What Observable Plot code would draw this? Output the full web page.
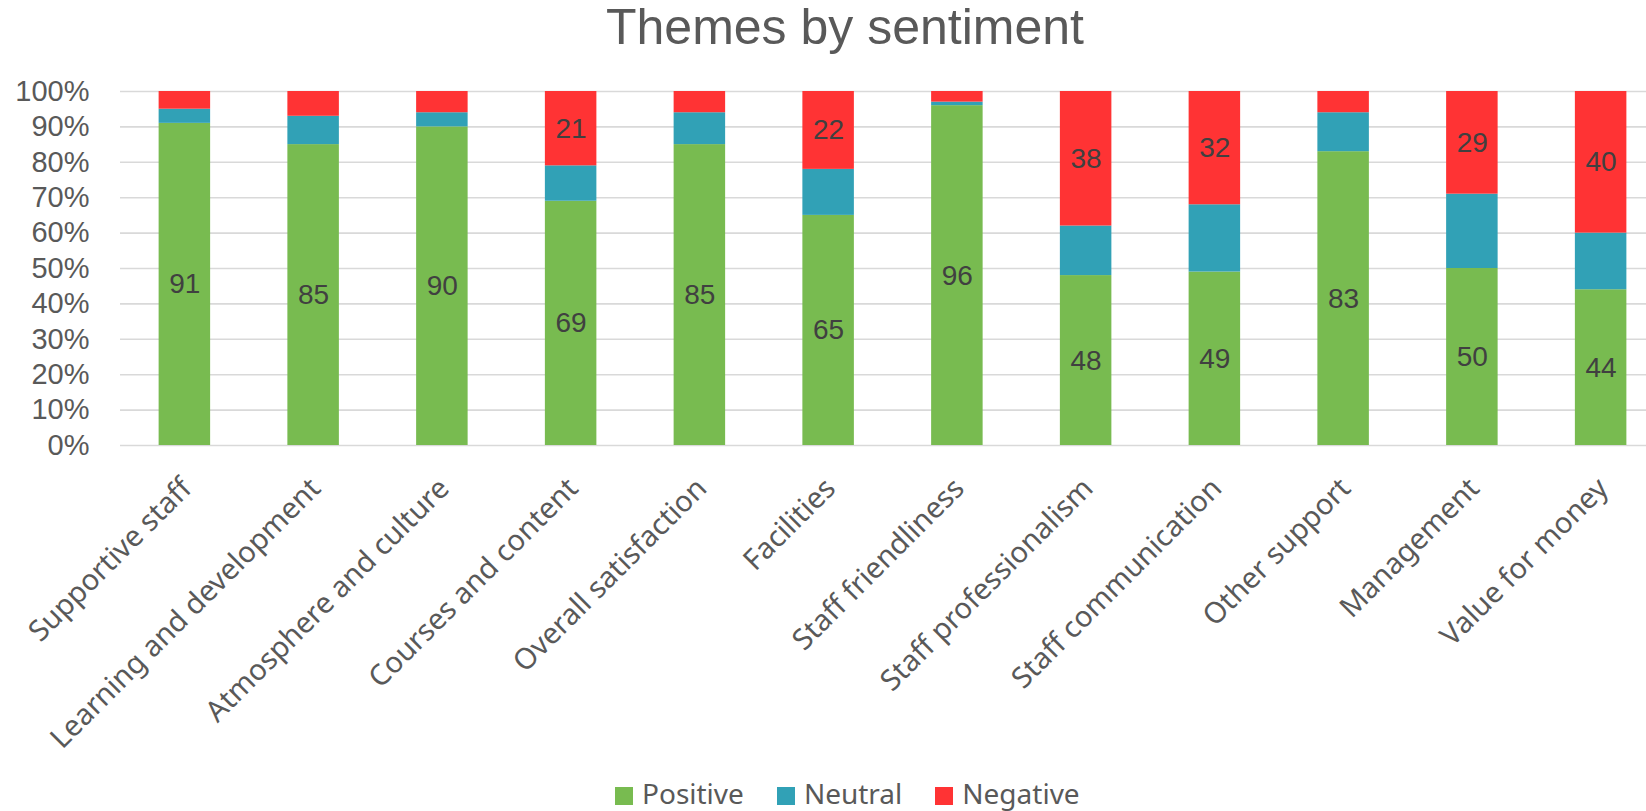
<!DOCTYPE html>
<html>
<head>
<meta charset="utf-8">
<script src="https://cdn.jsdelivr.net/npm/d3@7"></script>
<script src="https://cdn.jsdelivr.net/npm/@observablehq/plot@0.6"></script>
<style>
  html, body { margin: 0; padding: 0; background: #fff; overflow: hidden; }
  #wrap { position: relative; width: 1646px; height: 811px; }
  #title { position: absolute; top: 2px; left: 845px; transform: translateX(-50%);
    font-family: "Liberation Sans", Arial, sans-serif; font-size: 50px; line-height: 50px;
    color: #595959; white-space: nowrap; }
  #legend { position: absolute; top: 779px; left: 615px; display: flex;
    font-family: "Noto Sans", sans-serif; font-size: 28px; line-height: 28px; color: #595959; }
  .item { position: relative; padding-left: 27px; margin-right: 33px; white-space: nowrap; }
  .sw { position: absolute; left: 0; top: 8px; width: 18px; height: 18px; }
  #chart { position: absolute; left: 0; top: 0; }
</style>
</head>
<body>
<div id="wrap">
  <div id="chart"></div>
  <div id="title">Themes by sentiment</div>
  <div id="legend"></div>
</div>
<script>
const categories = ["Supportive staff", "Learning and development", "Atmosphere and culture", "Courses and content",
  "Overall satisfaction", "Facilities", "Staff friendliness", "Staff professionalism",
  "Staff communication", "Other support", "Management", "Value for money"];
const positive = [91, 85, 90, 69, 85, 65, 96, 48, 49, 83, 50, 44];
const neutral  = [4, 8, 4, 10, 9, 13, 1, 14, 19, 11, 21, 16];
const negative = [5, 7, 6, 21, 6, 22, 3, 38, 32, 6, 29, 40];
const seriesNames = ["Positive", "Neutral", "Negative"];
const seriesColors = ["#78BB50", "#31A1B6", "#FF3334"];
const yTicks = [0, 10, 20, 30, 40, 50, 60, 70, 80, 90, 100];

const rows = [];
categories.forEach((c, i) => {
  rows.push({category: c, series: "Positive", value: positive[i]});
  rows.push({category: c, series: "Neutral", value: neutral[i]});
  rows.push({category: c, series: "Negative", value: negative[i]});
});

// labels: all positive values, and negative values that Excel displayed (the large ones)
const labels = [];
categories.forEach((c, i) => {
  labels.push({category: c, y: positive[i] / 2, text: String(positive[i])});
  if (negative[i] >= 20) labels.push({category: c, y: positive[i] + neutral[i] + negative[i] / 2, text: String(negative[i])});
});

const chart = Plot.plot({
  width: 1646,
  height: 811,
  marginLeft: 120,
  marginRight: 0,
  marginTop: 91,
  marginBottom: 366,
  style: {background: "transparent", overflow: "visible"},
  x: {domain: categories, range: [120, 1665], paddingInner: 0.6, paddingOuter: 0.3, round: false, axis: null},
  y: {domain: [0, 100], axis: null},
  color: {domain: seriesNames, range: seriesColors},
  marks: [
    Plot.ruleY(yTicks, {stroke: "#D9D9D9", strokeWidth: 1.6}),
    Plot.barY(rows, {x: "category", y: "value", fill: "series", order: null}),
    Plot.text(yTicks, {y: d => d, text: d => d + "%", frameAnchor: "left", textAnchor: "end", dx: -31,
      fontSize: 29, fontFamily: "Liberation Sans, Arial, sans-serif", fill: "#595959"}),
    Plot.text(labels, {x: "category", y: "y", text: "text", fontSize: 28,
      fontFamily: "Liberation Sans, Arial, sans-serif", fill: "#404040"}),
    Plot.text(categories, {x: d => d, text: d => d, frameAnchor: "bottom", rotate: -45, textAnchor: "end",
      lineAnchor: "middle", dx: 2, dy: 38, fontSize: 29, fontFamily: "Noto Sans, sans-serif", fill: "#595959"})
  ]
});
document.getElementById("chart").appendChild(chart);

const legend = document.getElementById("legend");
seriesNames.forEach((s, i) => {
  const item = document.createElement("div");
  item.className = "item";
  const sw = document.createElement("span");
  sw.className = "sw";
  sw.style.background = seriesColors[i];
  item.appendChild(sw);
  item.appendChild(document.createTextNode(s));
  legend.appendChild(item);
});
</script>
</body>
</html>
